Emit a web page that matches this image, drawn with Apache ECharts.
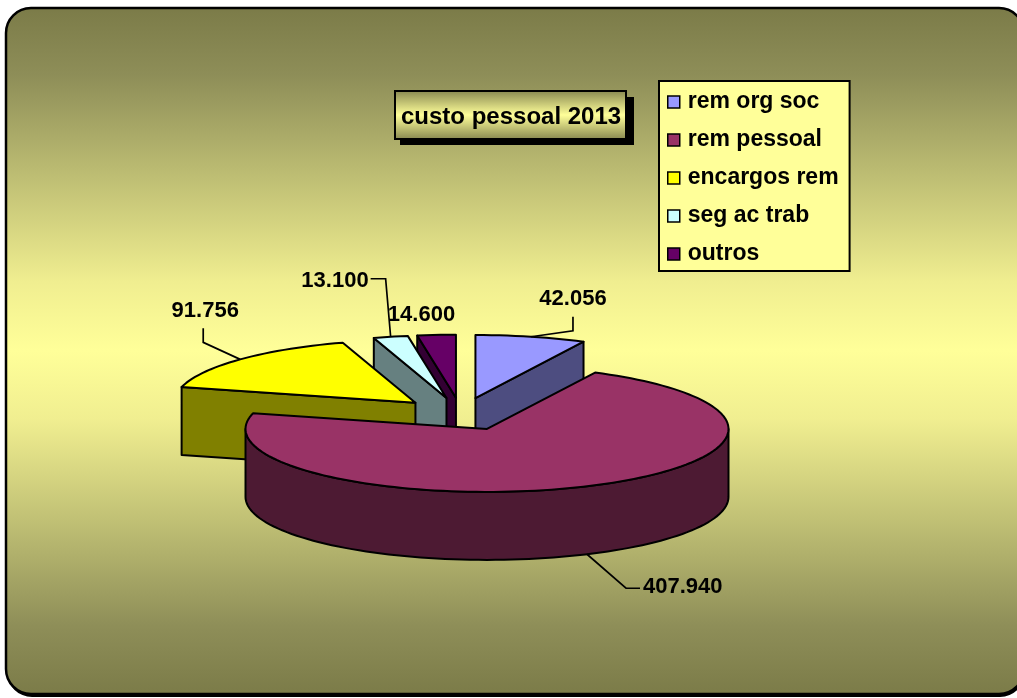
<!DOCTYPE html>
<html>
<head>
<meta charset="utf-8">
<style>html,body{margin:0;padding:0;background:#fff}#c{width:1017px;height:698px}</style>
<script src="https://cdn.jsdelivr.net/npm/echarts@6/dist/echarts.min.js"></script>
</head>
<body>
<div id="c"></div>
<script>
// ---- data ----
const chartTitle = 'custo pessoal 2013';
const categories = ['rem org soc', 'rem pessoal', 'encargos rem', 'seg ac trab', 'outros'];
const values = [42056, 407940, 91756, 13100, 14600];
const valueLabels = ['42.056', '407.940', '91.756', '13.100', '14.600'];

// ---- style ----
const topColors = ['#9999ff', '#993366', '#ffff00', '#ccffff', '#660066'];
const wallColors = ['#4d4d80', '#4d1a33', '#808000', '#668080', '#330033'];
const drawOrder = [4, 3, 2, 0, 1]; // back to front
const FONT = '"Liberation Sans", Arial, sans-serif';

// ---- pie projection ----
const CX = 461, CY = 414, RX = 241.5, RY = 63, DEPTH = 68, EXPLODE = 0.26;
// leader line elbows relative to the anchor, and the text placement relative to the last leader point
const leaders = [
  {anchorDepth: false, path: [[42, -6], [42, -20]], text: [0, -18], align: 'center'},
  {anchorDepth: true,  path: [[39, 34], [53, 34]], text: [3, -1], align: 'left'},
  {anchorDepth: false, path: [[-37, -17], [-37, -31]], text: [2, -17], align: 'center'},
  {anchorDepth: false, path: [[-5, -58], [-20, -58]], text: [-2, 2], align: 'right'},
  {anchorDepth: false, path: null, offset: [-15, -20], align: 'center'}
];

const total = values.reduce((s, v) => s + v, 0);
function startAngle(i) {
  let s = 0;
  for (let k = 0; k < i; k++) s += values[k];
  return s / total * Math.PI * 2;
}
function rimPoint(c, t, dy) {
  return [c[0] + RX * Math.sin(t), c[1] - RY * Math.cos(t) + (dy || 0)];
}
function arcPoints(c, a, b, dy) {
  const n = Math.max(2, Math.ceil((b - a) / (Math.PI / 90)));
  const pts = [];
  for (let k = 0; k <= n; k++) pts.push(rimPoint(c, a + (b - a) * k / n, dy));
  return pts;
}
function poly(points, fill) {
  return {type: 'polygon', shape: {points}, style: {fill, stroke: '#000', lineWidth: 2, lineJoin: 'round'}};
}

function renderSlice(i, api) {
  const a = startAngle(i);
  const b = a + api.value(0) / total * Math.PI * 2;
  const m = (a + b) / 2;
  const c = [CX + EXPLODE * RX * Math.sin(m), CY - EXPLODE * RY * Math.cos(m)];
  const bottom = [c[0], c[1] + DEPTH];
  const children = [];
  // radial walls facing the viewer
  if (Math.sin(a) < 0) {
    const p = rimPoint(c, a);
    children.push(poly([c, p, [p[0], p[1] + DEPTH], bottom], wallColors[i]));
  }
  if (Math.sin(b) > 0) {
    const p = rimPoint(c, b);
    children.push(poly([c, p, [p[0], p[1] + DEPTH], bottom], wallColors[i]));
  }
  // outer wall, front half only
  const fa = Math.max(a, Math.PI / 2), fb = Math.min(b, Math.PI * 1.5);
  if (fb > fa) {
    const up = arcPoints(c, fa, fb, 0);
    const down = arcPoints(c, fa, fb, DEPTH).reverse();
    children.push(poly(up.concat(down), wallColors[i]));
  }
  // top face
  children.push(poly([c].concat(arcPoints(c, a, b, 0)), topColors[i]));
  // leader line and value label
  const L = leaders[i];
  const anchor = rimPoint(c, m, L.anchorDepth ? DEPTH : 0);
  let tx, ty;
  if (L.path) {
    const pts = [anchor].concat(L.path.map(d => [anchor[0] + d[0], anchor[1] + d[1]]));
    children.push({type: 'polyline', shape: {points: pts}, style: {fill: 'none', stroke: '#000', lineWidth: 1.7}});
    const last = pts[pts.length - 1];
    tx = last[0] + L.text[0]; ty = last[1] + L.text[1];
  } else {
    tx = anchor[0] + L.offset[0]; ty = anchor[1] + L.offset[1];
  }
  children.push({
    type: 'text',
    style: {x: tx, y: ty, text: valueLabels[i], fill: '#000', align: L.align, verticalAlign: 'middle',
            font: 'bold 22px ' + FONT}
  });
  return {type: 'group', children};
}

const series = categories.map((name, i) => ({
  type: 'custom',
  name,
  coordinateSystem: 'none',
  z: 2 + drawOrder.indexOf(i) * 0.1,
  silent: true,
  itemStyle: {color: topColors[i]},
  data: [values[i]],
  renderItem: (params, api) => renderSlice(i, api)
}));

const bgGradient = {
  type: 'linear', x: 0, y: 0, x2: 0, y2: 1,
  colorStops: [
    {offset: 0, color: '#7b7b48'}, {offset: 0.1, color: '#8e8e58'}, {offset: 0.25, color: '#bfbf74'},
    {offset: 0.4, color: '#f0ee90'}, {offset: 0.5, color: '#ffff99'},
    {offset: 0.6, color: '#f0ee90'}, {offset: 0.75, color: '#bfbf74'}, {offset: 0.9, color: '#8e8e58'},
    {offset: 1, color: '#7b7b48'}
  ]
};
const titleGradient = {
  type: 'linear', x: 0, y: 0, x2: 0, y2: 1,
  colorStops: [{offset: 0, color: '#85854f'}, {offset: 0.5, color: '#ffff99'}, {offset: 1, color: '#85854f'}]
};

const chart = echarts.init(document.getElementById('c'), null, {renderer: 'canvas'});
chart.setOption({
  animation: false,
  tooltip: {show: false},
  graphic: [
    {type: 'rect', z: -10, silent: true, shape: {x: 7, y: 11, width: 1018, height: 686, r: 25}, style: {fill: '#000'}},
    {type: 'rect', z: -9, silent: true, shape: {x: 6, y: 8, width: 1018, height: 686, r: 25},
     style: {fill: bgGradient, stroke: '#000', lineWidth: 2.5}},
    {type: 'rect', z: -8, silent: true, shape: {x: 400, y: 97, width: 234, height: 48}, style: {fill: '#000'}}
  ],
  title: {
    text: chartTitle,
    left: 395, top: 91,
    padding: [13, 5, 9, 6],
    backgroundColor: titleGradient,
    borderColor: '#000', borderWidth: 2,
    textStyle: {color: '#000', fontFamily: FONT, fontWeight: 'bold', fontSize: 24, lineHeight: 26}
  },
  legend: {
    orient: 'vertical',
    left: 659, top: 81,
    padding: [5, 11, 1, 8],
    itemWidth: 12, itemHeight: 12, itemGap: 6,
    backgroundColor: '#ffff99', borderColor: '#000', borderWidth: 2,
    selectedMode: false,
    textStyle: {color: '#000', fontFamily: FONT, fontWeight: 'bold', fontSize: 23, lineHeight: 26, padding: [6, 0, 0, 3]},
    data: categories.map((name, i) => ({
      name, icon: 'rect',
      itemStyle: {color: topColors[i], borderColor: '#000', borderWidth: 1.5}
    }))
  },
  series
});
</script>
</body>
</html>
